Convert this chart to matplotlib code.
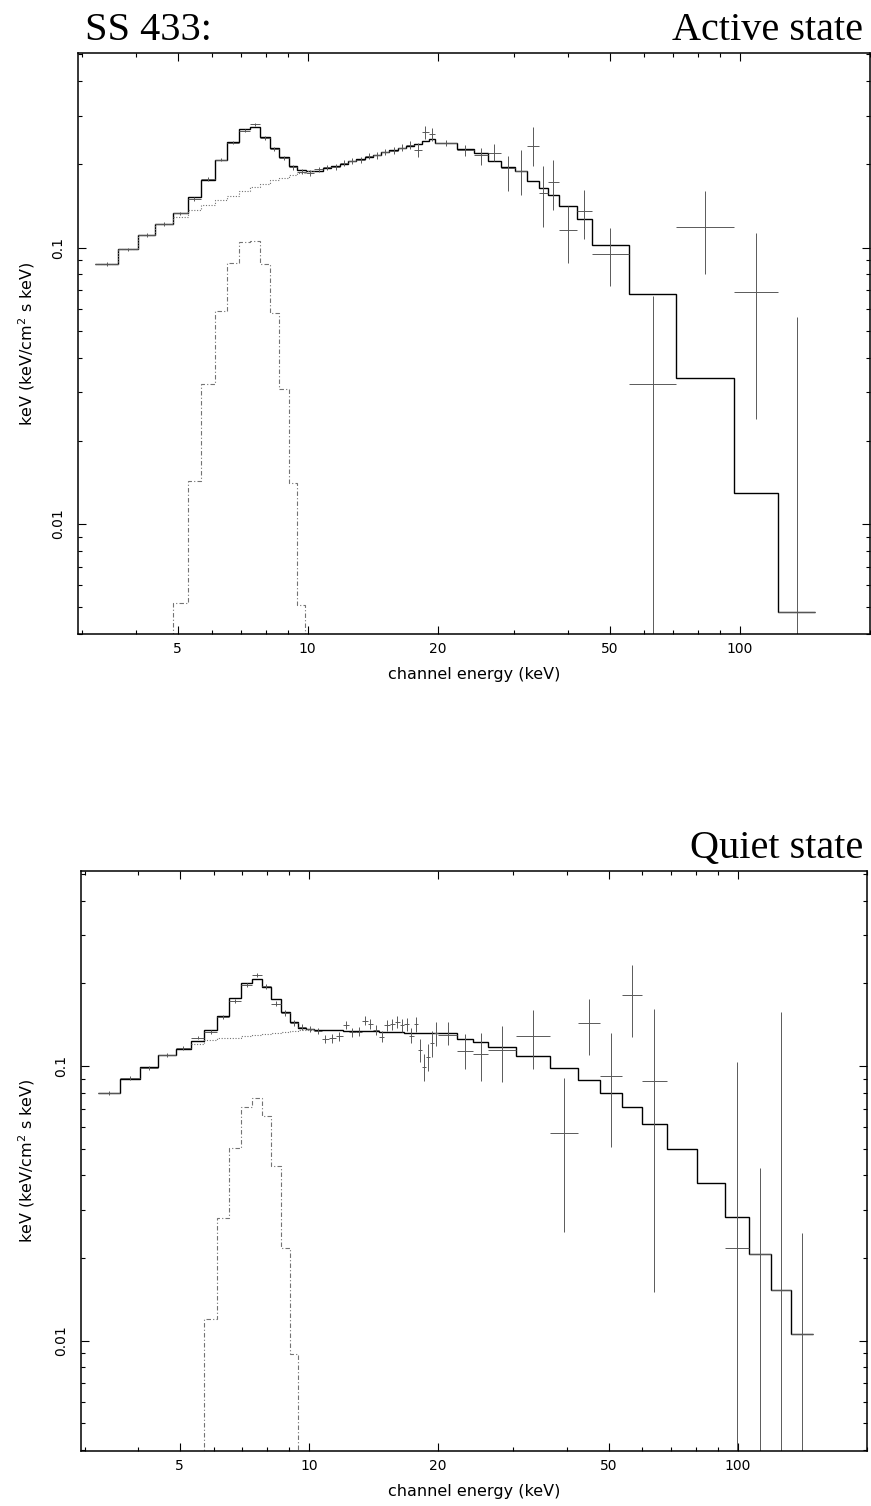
import numpy as np
import matplotlib
matplotlib.use("Agg")
import matplotlib.pyplot as plt
from matplotlib.ticker import NullFormatter

# ---------------- Active state (top panel) ----------------
top_edges = [3.22, 3.64, 4.05, 4.44, 4.87, 5.28, 5.65, 6.11, 6.50, 6.94, 7.36, 7.76,
             8.16, 8.59, 9.04, 9.46, 9.90, 10.36, 10.84, 11.34, 11.86, 12.40, 12.96,
             13.55, 14.16, 14.80, 15.46, 16.15, 16.87, 17.62, 18.40, 19.05, 19.70,
             22.2, 24.2, 26.1, 28.0, 30.1, 32.2, 34.2, 35.9, 38.1, 41.9, 45.5, 55.3,
             71.3, 96.9, 122.6, 149.4]
top_model = [0.0873, 0.0989, 0.1114, 0.122, 0.1335, 0.152, 0.176, 0.207, 0.242, 0.268,
             0.274, 0.252, 0.230, 0.212, 0.197, 0.191, 0.189, 0.190, 0.194, 0.198,
             0.201, 0.205, 0.209, 0.213, 0.217, 0.221, 0.225, 0.229, 0.233, 0.237,
             0.244, 0.247, 0.239, 0.227, 0.220, 0.206, 0.195, 0.189, 0.174, 0.164,
             0.155, 0.142, 0.127, 0.1025, 0.068, 0.0338, 0.013, 0.0048]
top_cont_edges = [3.22, 3.64, 4.05, 4.44, 4.87, 5.28, 5.65, 6.11, 6.50, 6.94, 7.36,
                  7.76, 8.16, 8.59, 9.04, 9.46, 9.90, 10.36]
top_cont = [0.0873, 0.0989, 0.1114, 0.122, 0.129, 0.137, 0.143, 0.149, 0.154, 0.160,
            0.165, 0.170, 0.175, 0.179, 0.183, 0.186, 0.189]
top_line_edges = [4.87, 5.28, 5.65, 6.11, 6.50, 6.94, 7.36, 7.76, 8.16, 8.59, 9.04,
                  9.46, 9.85]
top_line = [0.0052, 0.0143, 0.032, 0.0589, 0.0881, 0.105, 0.106, 0.0876, 0.058,
            0.0309, 0.0141, 0.0051]
top_data = [0.0870, 0.0985, 0.1110, 0.1215, 0.1330, 0.1500, 0.1770, 0.2080, 0.2400,
            0.2650, 0.2790, 0.2500, 0.2280, 0.2110, 0.1950, 0.1880, 0.1860, 0.1920,
            0.1950, 0.1960, 0.2020, 0.2060, 0.2080, 0.2140, 0.2160, 0.2220, 0.2240,
            0.2300, 0.2350, 0.2260, 0.2620, 0.2570, 0.2400, 0.2260, 0.2167, 0.2196,
            0.194, 0.189, 0.2335, 0.158, 0.173, 0.1155, 0.136, 0.095, 0.032, 0.119,
            0.069, 0.0048]
top_lo = [0.0855, 0.0970, 0.1093, 0.1197, 0.1310, 0.1478, 0.1745, 0.2050, 0.2365,
          0.2610, 0.2750, 0.2460, 0.2240, 0.2070, 0.1910, 0.1840, 0.1810, 0.1875,
          0.1905, 0.1915, 0.1970, 0.2010, 0.2030, 0.2085, 0.2100, 0.2160, 0.2175,
          0.2230, 0.2270, 0.2130, 0.2480, 0.2440, 0.2340, 0.2140, 0.199, 0.205,
          0.160, 0.155, 0.197, 0.119, 0.137, 0.088, 0.107, 0.0725, 1e-4, 0.080,
          0.0239, 1e-4]
top_hi = [0.0885, 0.1000, 0.1127, 0.1233, 0.1350, 0.1522, 0.1795, 0.2110, 0.2435,
          0.2690, 0.2830, 0.2540, 0.2320, 0.2150, 0.1990, 0.1920, 0.1910, 0.1965,
          0.1995, 0.2005, 0.2070, 0.2110, 0.2130, 0.2195, 0.2220, 0.2280, 0.2305,
          0.2370, 0.2430, 0.2390, 0.2760, 0.2700, 0.2460, 0.2355, 0.229, 0.237,
          0.214, 0.226, 0.273, 0.197, 0.208, 0.142, 0.162, 0.1178, 0.0667, 0.160,
          0.113, 0.0562]

# ---------------- Quiet state (bottom panel) ----------------
bot_edges = [3.22, 3.63, 4.04, 4.45, 4.90, 5.31, 5.71, 6.11, 6.52, 6.95, 7.38, 7.76,
             8.17, 8.60, 9.03, 9.45, 9.85, 10.30, 10.75, 11.12, 11.56, 12.02, 12.43,
             12.86, 13.31, 13.71, 14.13, 14.56, 15.00, 15.45, 15.85, 16.30, 16.72,
             17.13, 17.57, 18.00, 18.39, 18.77, 19.18, 19.58, 20.0, 22.2, 24.2, 26.2,
             30.4, 36.6, 42.4, 47.8, 53.9, 59.9, 68.3, 80.4, 93.6, 106.5, 119.7,
             133.0, 149.8]
bot_model = [0.0796, 0.0895, 0.0995, 0.1096, 0.115, 0.1233, 0.1352, 0.1524, 0.1772,
             0.200, 0.207, 0.1944, 0.1749, 0.1576, 0.145, 0.137, 0.136, 0.1355,
             0.1352, 0.1350, 0.1348, 0.1346, 0.1344, 0.1342, 0.1340, 0.1338, 0.1336,
             0.1334, 0.1332, 0.1330, 0.1328, 0.1326, 0.1324, 0.1322, 0.1320, 0.1319,
             0.1318, 0.1317, 0.1316, 0.1316, 0.1315, 0.125, 0.1226, 0.1175, 0.109,
             0.0986, 0.089, 0.0796, 0.0707, 0.0615, 0.0498, 0.0376, 0.0281, 0.0207,
             0.0153, 0.0106]
bot_cont_edges = [5.31, 5.71, 6.11, 6.52, 6.95, 7.38, 7.76, 8.17, 8.60, 9.03, 9.45,
                  9.85, 10.30]
bot_cont = [0.120, 0.124, 0.126, 0.127, 0.129, 0.130, 0.131, 0.132, 0.133, 0.134,
            0.135, 0.1355]
bot_line_edges = [5.71, 6.11, 6.52, 6.95, 7.38, 7.76, 8.17, 8.60, 9.03, 9.45]
bot_line = [0.0120, 0.0279, 0.0504, 0.0710, 0.0767, 0.0660, 0.0434, 0.0217, 0.00895]
bot_data = [0.0796, 0.0905, 0.0985, 0.1100, 0.1160, 0.1270, 0.1330, 0.1510, 0.1725,
            0.1970, 0.2150, 0.1950, 0.1685, 0.1560, 0.1430, 0.1390, 0.1365, 0.1345,
            0.1254, 0.1262, 0.1286, 0.1410, 0.1330, 0.1335, 0.1462, 0.1422, 0.1352,
            0.1280, 0.1410, 0.1422, 0.1450, 0.1410, 0.1422, 0.1290, 0.1422, 0.1143,
            0.0995, 0.1081, 0.1210, 0.1315, 0.1297, 0.1134, 0.1103, 0.1143, 0.1286,
            0.0572, 0.1430, 0.0920, 0.1810, 0.0882, np.nan, np.nan, 0.0217, 0.0207,
            0.0153, 0.0106]
bot_lo = [0.0784, 0.0892, 0.0970, 0.1083, 0.1142, 0.1250, 0.1308, 0.1485, 0.1695,
          0.1935, 0.2110, 0.1910, 0.1650, 0.1525, 0.1395, 0.1355, 0.1330, 0.1310,
          0.1210, 0.1215, 0.1238, 0.1360, 0.1280, 0.1283, 0.1405, 0.1365, 0.1295,
          0.1220, 0.1345, 0.1355, 0.1380, 0.1335, 0.1345, 0.1210, 0.1335, 0.1030,
          0.0880, 0.0960, 0.1080, 0.1180, 0.1192, 0.0973, 0.0884, 0.0877, 0.0973,
          0.0248, 0.1097, 0.0509, 0.1280, 0.0150, np.nan, np.nan, 1e-4, 1e-4,
          1e-4, 1e-4]
bot_hi = [0.0808, 0.0918, 0.1000, 0.1117, 0.1178, 0.1290, 0.1352, 0.1535, 0.1755,
          0.2005, 0.2190, 0.1990, 0.1720, 0.1595, 0.1465, 0.1425, 0.1400, 0.1380,
          0.1298, 0.1309, 0.1334, 0.1460, 0.1380, 0.1387, 0.1519, 0.1479, 0.1409,
          0.1340, 0.1475, 0.1489, 0.1520, 0.1485, 0.1499, 0.1370, 0.1509, 0.1256,
          0.1110, 0.1200, 0.1340, 0.1450, 0.1450, 0.1308, 0.1315, 0.1399, 0.1600,
          0.0902, 0.1760, 0.1320, 0.2330, 0.1610, np.nan, np.nan, 0.1037, 0.0424,
          0.1576, 0.0246]

x_major = [5, 10, 20, 50, 100]
x_major_labels = ["5", "10", "20", "50", "100"]
x_minor = [3, 4, 6, 7, 8, 9, 30, 40, 60, 70, 80, 90, 200]
y_major = [0.01, 0.1]
y_major_labels = ["0.01", "0.1"]
y_minor = [0.004, 0.005, 0.006, 0.007, 0.008, 0.009, 0.02, 0.03, 0.04, 0.05, 0.06,
           0.07, 0.08, 0.09, 0.2, 0.3, 0.4, 0.5]

W, H = 871, 1506
fig = plt.figure(figsize=(W / 100, H / 100), dpi=100)
fig.patch.set_facecolor("white")


def panel(rect_px, edges, model, cedges, cont, ledges, line, data, lo, hi, xlim, ylim):
    l, t, r, b = rect_px
    ax = fig.add_axes([l / W, (H - b) / H, (r - l) / W, (b - t) / H])
    ax.set_xscale("log")
    ax.set_yscale("log")
    edges = np.asarray(edges, float)
    ax.stairs(model, edges, baseline=None, color="black", lw=1.0)
    ax.stairs(cont, np.asarray(cedges, float), baseline=None, color="0.45",
              lw=0.8, ls=(0, (1, 1.5)))
    ax.stairs(line, np.asarray(ledges, float), baseline=1e-6, color="0.45",
              lw=0.8, ls=(0, (4, 2, 1, 2)))
    e_lo = edges[:-1]
    e_hi = edges[1:]
    xc = np.sqrt(e_lo * e_hi)
    d = np.asarray(data, float)
    lo = np.asarray(lo, float)
    hi = np.asarray(hi, float)
    ok = ~np.isnan(d)
    ax.errorbar(xc[ok], d[ok], xerr=[(xc - e_lo)[ok], (e_hi - xc)[ok]],
                yerr=[(d - lo)[ok], (hi - d)[ok]], fmt="none", ecolor="0.35",
                elinewidth=0.7, capsize=0)
    ax.set_xlim(*xlim)
    ax.set_ylim(*ylim)
    ax.set_xticks(x_major, labels=x_major_labels, fontsize=10)
    ax.set_xticks(x_minor, minor=True)
    ax.xaxis.set_minor_formatter(NullFormatter())
    ax.set_yticks(y_major, labels=y_major_labels, fontsize=10, rotation=90,
                  va="center")
    ax.set_yticks(y_minor, minor=True)
    ax.yaxis.set_minor_formatter(NullFormatter())
    ax.tick_params(which="major", direction="in", length=6, width=0.8,
                   top=True, right=True)
    ax.tick_params(which="minor", direction="in", length=3, width=0.8,
                   top=True, right=True)
    ax.tick_params(axis="x", pad=6)
    ax.tick_params(axis="y", pad=9)
    for s in ax.spines.values():
        s.set_linewidth(1.1)
    ax.set_xlabel("channel energy (keV)", fontsize=11.5)
    ax.xaxis.set_label_coords(0.5, -41 / (b - t))
    ax.xaxis.label.set_va("center")
    ax.set_ylabel("keV (keV/cm$^2$ s keV)", fontsize=11.5)
    ax.yaxis.set_label_coords(-(l - 27) / (r - l), 0.5)
    ax.yaxis.label.set_va("center")
    return ax


panel((78, 52.7, 870, 634), top_edges, top_model, top_cont_edges, top_cont,
      top_line_edges, top_line, top_data, top_lo, top_hi,
      (2.941, 163.3), (0.004042, 0.5072))
panel((80.7, 871, 866.7, 1450.7), bot_edges, bot_model, bot_cont_edges, bot_cont,
      bot_line_edges, bot_line, bot_data, bot_lo, bot_hi,
      (2.939, 166.0), (0.003978, 0.5128))

serif = ["Liberation Serif", "DejaVu Serif"]
fig.text(85 / W, 1 - 40 / H, "SS 433:", family=serif, fontsize=29,
         ha="left", va="baseline")
fig.text(863 / W, 1 - 40 / H, "Active state", family=serif, fontsize=29,
         ha="right", va="baseline")
fig.text(863 / W, 1 - 858 / H, "Quiet state", family=serif, fontsize=29,
         ha="right", va="baseline")

fig.savefig("out.png", dpi=100, facecolor="white")
